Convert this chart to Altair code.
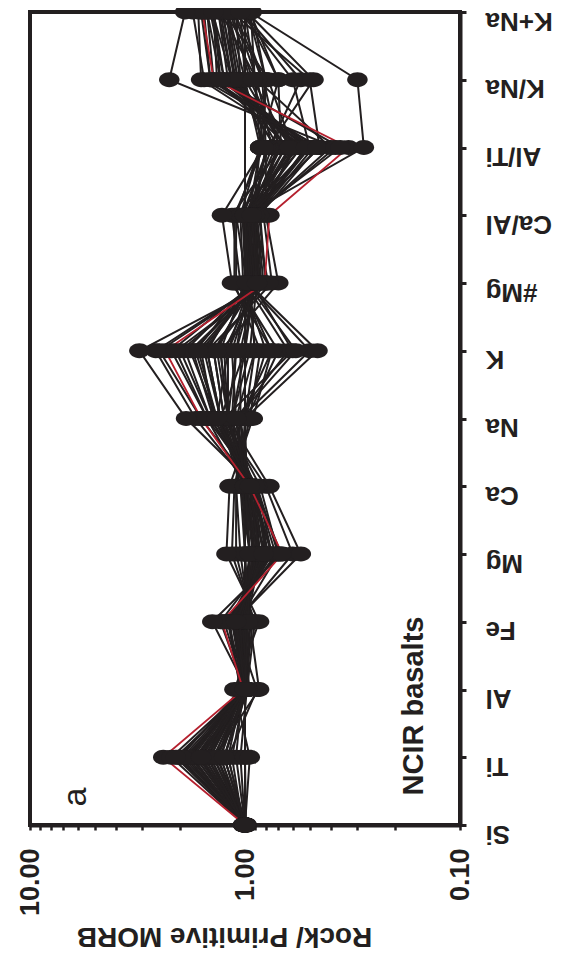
import altair as alt
import pandas as pd

elements = ["Si", "Ti", "Al", "Fe", "Mg", "Ca", "Na", "K", "#Mg", "Ca/Al", "Al/Ti", "K/Na", "K+Na"]

# Column 0 = highlighted (red) sample, column 1 = reference sample, then 42 NCIR basalts
si = [1.0, 1.0, 1.0, 1.01, 0.99, 1.0, 1.02, 1.0, 0.99, 1.0, 1.01, 1.0, 1.0, 0.99, 1.0, 1.02, 1.0,
      1.0, 0.98, 1.0, 1.01, 1.0, 1.0, 0.99, 1.0, 1.0, 1.02, 1.0, 1.0, 1.0, 0.99, 1.0, 1.01, 1.0,
      1.0, 0.99, 1.0, 1.0, 1.02, 1.0, 1.0, 0.99, 1.0, 1.0]
ti = [2.4, 1.0, 2.2, 2.0, 1.9, 1.8, 1.75, 1.7, 1.65, 1.6, 1.6, 1.55, 1.5, 1.5, 1.45, 1.45, 1.4,
      1.4, 1.35, 1.35, 1.3, 1.3, 1.25, 1.25, 1.2, 1.2, 1.15, 2.05, 1.1, 1.05, 1.0, 0.95, 1.85, 1.7,
      1.55, 1.65, 1.5, 1.4, 1.35, 1.25, 1.8, 1.95, 2.1, 1.6]
al = [1.02, 1.0, 1.0, 1.05, 0.98, 1.0, 1.02, 0.95, 1.0, 1.05, 0.97, 1.0, 1.03, 0.98, 1.0, 1.05,
      0.86, 1.0, 1.02, 0.98, 1.0, 1.05, 0.97, 1.0, 1.02, 0.88, 1.0, 1.0, 1.03, 0.98, 1.0, 1.12,
      1.0, 1.02, 0.98, 1.0, 1.02, 1.0, 0.97, 1.0, 1.05, 1.0, 0.98, 1.0]
fe = [1.28, 1.0, 1.3, 1.2, 1.15, 1.1, 1.12, 1.05, 1.08, 1.0, 1.1, 1.05, 1.02, 1.15, 1.0, 1.08,
      0.95, 1.05, 1.0, 1.1, 0.98, 1.02, 0.95, 1.05, 1.0, 1.12, 0.92, 1.0, 0.98, 0.9, 0.95, 0.86,
      1.2, 1.15, 1.08, 1.12, 1.05, 1.0, 1.03, 0.97, 1.18, 1.25, 1.42, 1.1]
mg = [0.67, 1.0, 0.75, 0.8, 0.85, 0.9, 0.78, 0.95, 0.7, 1.0, 0.85, 0.9, 0.95, 0.75, 0.92, 0.85,
      1.05, 0.8, 0.9, 0.6, 1.0, 0.88, 0.95, 0.82, 0.9, 0.55, 1.1, 0.95, 0.85, 1.15, 1.0, 1.22,
      0.72, 0.78, 0.85, 0.8, 0.88, 0.92, 0.86, 0.95, 0.75, 0.7, 0.68, 0.82]
ca = [0.95, 1.0, 0.95, 1.0, 0.92, 0.98, 0.9, 1.05, 0.85, 1.0, 0.95, 1.0, 1.02, 0.88, 0.95, 1.05,
      1.1, 0.9, 1.0, 0.8, 1.02, 0.95, 1.0, 0.92, 0.98, 0.77, 1.1, 1.0, 0.95, 1.12, 1.05, 1.18,
      0.9, 0.93, 0.96, 0.9, 0.98, 1.0, 0.95, 1.0, 0.92, 0.88, 0.9, 0.95]
na = [1.6, 1.0, 1.7, 1.5, 1.45, 1.35, 1.4, 1.3, 1.25, 1.2, 1.3, 1.2, 1.15, 1.35, 1.1, 1.25,
      1.05, 1.2, 1.15, 1.3, 1.1, 1.1, 1.05, 1.15, 1.0, 1.2, 0.98, 1.0, 1.05, 0.95, 1.0, 0.92,
      1.45, 1.4, 1.3, 1.35, 1.25, 1.2, 1.2, 1.1, 1.6, 1.5, 1.88, 1.35]
k = [2.35, 1.0, 2.6, 2.2, 1.9, 1.7, 1.6, 1.5, 1.4, 1.3, 1.0, 1.2, 1.1, 1.8, 0.9, 1.4,
     0.75, 1.25, 1.0, 1.5, 0.63, 1.15, 0.5, 0.95, 0.9, 1.3, 0.7, 0.46, 1.05, 0.85, 0.8, 0.75,
     2.0, 1.75, 1.55, 1.2, 0.6, 1.35, 1.1, 0.58, 2.5, 2.1, 3.1, 1.65]
mgno = [0.81, 1.0, 0.85, 0.9, 0.92, 0.95, 0.88, 0.98, 0.8, 1.0, 0.9, 0.95, 0.97, 0.85, 0.96, 0.9,
        1.05, 0.88, 0.93, 0.75, 1.0, 0.92, 0.98, 0.88, 0.95, 0.7, 1.1, 0.97, 0.9, 1.12, 1.02, 1.15,
        0.82, 0.86, 0.9, 0.88, 0.93, 0.95, 0.9, 0.98, 0.84, 0.8, 0.78, 0.88]
ca_al = [0.77, 1.0, 0.95, 0.95, 0.9, 0.98, 0.88, 1.1, 0.85, 0.95, 0.98, 1.0, 0.98, 0.9, 0.95, 1.0,
         1.15, 0.9, 0.98, 0.82, 1.02, 0.9, 1.03, 0.92, 0.96, 0.8, 1.1, 1.0, 0.92, 1.12, 1.05, 1.28,
         0.88, 0.9, 0.95, 0.9, 0.96, 1.0, 0.97, 1.0, 0.88, 0.86, 0.9, 0.93]
al_ti = [0.33, None, 0.45, 0.5, 0.52, 0.55, 0.58, 0.56, 0.6, 0.65, 0.6, 0.65, 0.68, 0.62, 0.7, 0.72,
         0.68, 0.7, 0.75, 0.72, 0.77, 0.8, 0.78, 0.8, 0.85, 0.8, 0.85, 0.28, 0.85, 0.82, 0.85, 0.82,
         0.48, 0.5, 0.55, 0.4, 0.45, 0.58, 0.62, 0.5, 0.52, 0.46, 0.38, 0.36]
k_na = [1.4, None, 1.55, 1.45, 1.3, 1.25, 1.15, 1.15, 1.1, 1.08, 0.78, 1.0, 0.95, 1.35, 0.82, 1.12,
        0.7, 1.05, 0.88, 1.15, 0.55, 1.05, 0.48, 0.83, 0.9, 1.08, 0.7, 0.3, 1.0, 0.9, 0.8, 0.8,
        1.4, 1.25, 1.2, 0.88, 0.5, 1.12, 0.92, 0.6, 1.6, 1.45, 2.25, 1.3]
k_plus_na = [1.58, 1.0, 1.75, 1.6, 1.5, 1.4, 1.42, 1.33, 1.28, 1.22, 1.25, 1.2, 1.15, 1.4, 1.08, 1.27,
             1.0, 1.2, 1.13, 1.3, 1.03, 1.1, 0.98, 1.12, 1.0, 1.22, 0.95, 0.95, 1.05, 0.94, 0.97, 0.93,
             1.5, 1.45, 1.33, 1.3, 1.15, 1.22, 1.18, 1.05, 1.65, 1.55, 1.9, 1.4]

series = [si, ti, al, fe, mg, ca, na, k, mgno, ca_al, al_ti, k_na, k_plus_na]

x_ticks = [0.1, 0.2, 0.3, 0.4, 0.5, 0.6, 0.7, 0.8, 0.9, 1, 2, 3, 4, 5, 6, 7, 8, 9, 10]

rows = []
for j in range(len(ti)):
    for i, el in enumerate(elements):
        v = series[i][j]
        if v is None:
            continue
        rows.append({"sample": j, "element": el, "idx": i, "value": v,
                     "group": "red" if j == 0 else "black"})
df = pd.DataFrame(rows)

INK = "#231f20"
FONT = "Liberation Sans"

x_enc = alt.X(
    "value:Q",
    scale=alt.Scale(type="log", domain=[0.1, 10], reverse=True),
    axis=alt.Axis(
        values=x_ticks,
        labelExpr="(datum.value == 0.1 || datum.value == 1 || datum.value == 10) ? format(datum.value, '.2f') : ''",
        labelAngle=270,
        labelAlign="right",
        labelBaseline="middle",
        labelFont=FONT, labelFontSize=27, labelFontWeight="bold", labelColor=INK,
        labelPadding=18, labelFlush=False, labelOverlap=False,
        tickSize=5, tickWidth=2.5, tickColor=INK,
        domainWidth=4, domainColor=INK, grid=False,
        title="Rock/ Primitive MORB", titleAngle=180, titleFont=FONT, titleFontSize=28,
        titleFontWeight="bold", titleColor=INK, titlePadding=34, titleX=194,
    ),
)
y_enc = alt.Y(
    "element:N",
    sort=elements[::-1],
    scale=alt.Scale(type="point", padding=0),
    axis=alt.Axis(
        orient="right", labelAngle=180, labelAlign="right", labelBaseline="alphabetic",
        labelFont=FONT, labelFontSize=26, labelFontWeight="bold", labelColor=INK,
        labelPadding=19, tickSize=6, tickWidth=3, tickColor=INK,
        domainWidth=4, domainColor=INK, grid=False, title=None,
    ),
)

base = alt.Chart(df)
black_lines = base.transform_filter(alt.datum.group == "black").mark_line(
    color=INK, strokeWidth=2).encode(x=x_enc, y=y_enc, detail="sample:N", order="idx:Q")
red_line = base.transform_filter(alt.datum.group == "red").mark_line(
    color="#b5202e", strokeWidth=1.8).encode(x=x_enc, y=y_enc, detail="sample:N", order="idx:Q")
ellipse = "M -1 0 A 1 0.72 0 1 1 1 0 A 1 0.72 0 1 1 -1 0 Z"
points = base.mark_point(shape=ellipse, filled=True, size=420, color=INK, opacity=1).encode(
    x=x_enc, y=y_enc)

label_df = pd.DataFrame({"t": ["NCIR basalts"]})
ncir = alt.Chart(label_df).mark_text(
    angle=270, font=FONT, fontSize=29, fontWeight="bold", color=INK,
    align="center", baseline="middle").encode(x=alt.value(384), y=alt.value(694), text="t:N")
panel_df = pd.DataFrame({"t": ["a"]})
panel = alt.Chart(panel_df).mark_text(
    angle=270, font=FONT, fontSize=34, color=INK,
    align="center", baseline="middle").encode(x=alt.value(46), y=alt.value(785), text="t:N")

chart = alt.layer(black_lines, red_line, points, ncir, panel).properties(
    width=430, height=813,
    padding={"left": 22, "top": 4, "right": 100, "bottom": 129},
    autosize=alt.AutoSizeParams(type="none"),
).configure_view(stroke=INK, strokeWidth=4)

chart.save("out.html", embed_options={"renderer": "svg", "actions": False})
